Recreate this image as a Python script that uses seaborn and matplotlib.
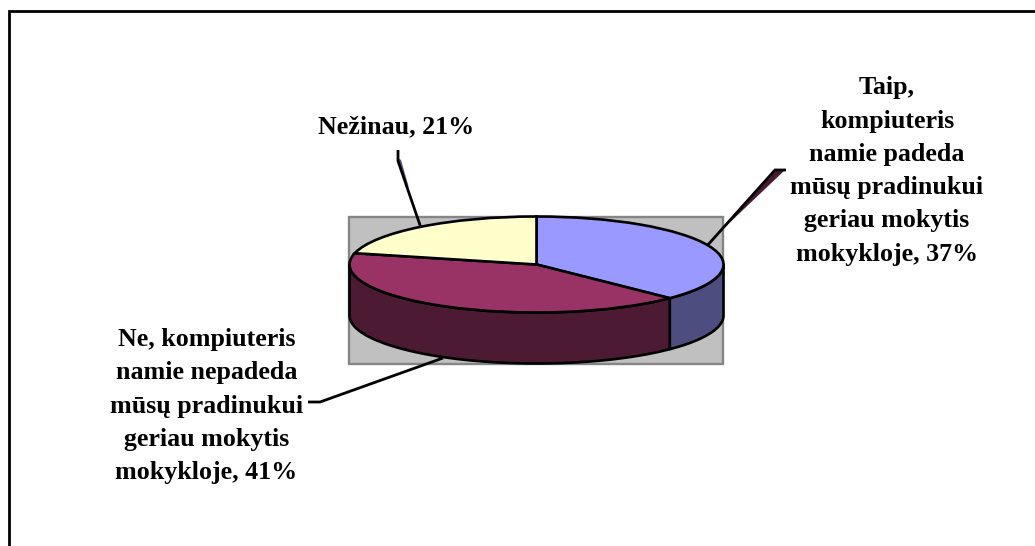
import numpy as np
import matplotlib
matplotlib.use("Agg")
import matplotlib.pyplot as plt
from matplotlib.patches import Rectangle, Polygon
import seaborn as sns

labels = ["Taip,\nkompiuteris\nnamie padeda\nmūsų pradinukui\ngeriau mokytis\nmokykloje, 37%",
          "Ne, kompiuteris\nnamie nepadeda\nmūsų pradinukui\ngeriau mokytis\nmokykloje, 41%",
          "Nežinau, 21%"]
values = [37, 41, 21]
top_colors = ["#9999FF", "#993366", "#FFFFCC"]
side_colors = ["#4D4D80", "#4D1A33", "#808066"]

sns.set_theme(style="white")
plt.rcParams["font.family"] = ["Liberation Serif", "DejaVu Serif"]

W, H = 1035, 546
fig = plt.figure(figsize=(W/100, H/100), dpi=100, facecolor="white")
bg = fig.add_axes([0, 0, 1, 1])
bg.set_xlim(0, W); bg.set_ylim(H, 0); bg.axis("off")

# chart frame, cut off by the right and bottom of the picture
bg.plot([8.7, 8.7, W+5], [H+5, 11.3, 11.3], color="black", lw=2.0, solid_joinstyle="miter", zorder=1)
# plot area
bg.add_patch(Rectangle((349, 216.5), 374, 147.5, fc="#C0C0C0", ec="#858585", lw=1.7, zorder=1))

cx, cy, rx, ry, depth = 536.5, 264.5, 187, 48, 51
fr = np.cumsum([0] + values) / sum(values)
ang = np.pi/2 - 2*np.pi*fr  # clockwise from 12 o'clock

def pts(a0, a1, n=80):
    t = np.linspace(a0, a1, n)
    return cx + rx*np.cos(t), cy - ry*np.sin(t)

# side walls (only the front half)
for i in range(len(values)):
    a0, a1 = ang[i], ang[i+1]
    lo, hi = max(a1, -np.pi), min(a0, 0)
    if lo < hi:
        x, y = pts(hi, lo)
        poly = np.r_[np.c_[x, y], np.c_[x[::-1], y[::-1] + depth]]
        bg.add_patch(Polygon(poly, closed=True, fc=side_colors[i], ec="black", lw=1.9, zorder=3, joinstyle="round"))

# top face drawn by the library's own pie
ax = fig.add_axes([(cx-rx)/W, 1-(cy+ry)/H, 2*rx/W, 2*ry/H])
ax.patch.set_alpha(0)
ax.pie(values, colors=top_colors, startangle=90, counterclock=False, radius=1,
       wedgeprops=dict(edgecolor="black", linewidth=1.9))
ax.set_aspect("auto")
ax.set_xlim(-1, 1); ax.set_ylim(-1, 1)
ax.set_zorder(5)
for s in ax.patches:
    s.set_clip_on(False)

# leader lines
over = fig.add_axes([0, 0, 1, 1]); over.set_xlim(0, W); over.set_ylim(H, 0); over.axis("off"); over.set_zorder(4)
over.add_patch(Polygon([[776, 169], [786, 169], [723, 229], [716, 236]], closed=True, fc="#4D1A33", ec="none"))
over.plot([706, 775, 786], [247, 170, 170], color="black", lw=2.0, solid_joinstyle="miter", solid_capstyle="butt")
over.add_patch(Polygon([[398, 158], [401, 160], [409, 188], [405, 180]], closed=True, fc="#4D4D80", ec="none"))
over.plot([398, 398, 421], [150, 161, 228], color="black", lw=2.0, solid_capstyle="butt")
over.plot([443, 320, 308], [358, 402, 402], color="black", lw=2.0, solid_capstyle="butt")

over2 = fig.add_axes([0, 0, 1, 1]); over2.set_xlim(0, W); over2.set_ylim(H, 0); over2.axis("off"); over2.set_zorder(6)
kw = dict(ha="center", va="center", fontsize=18.7, fontweight="bold", color="black", linespacing=1.57)
over2.text(887, 171, labels[0], **kw)
over2.text(206.5, 406, labels[1], **kw)
over2.text(396.5, 127, labels[2], **kw)

fig.savefig("out.png", dpi=100, facecolor="white")
